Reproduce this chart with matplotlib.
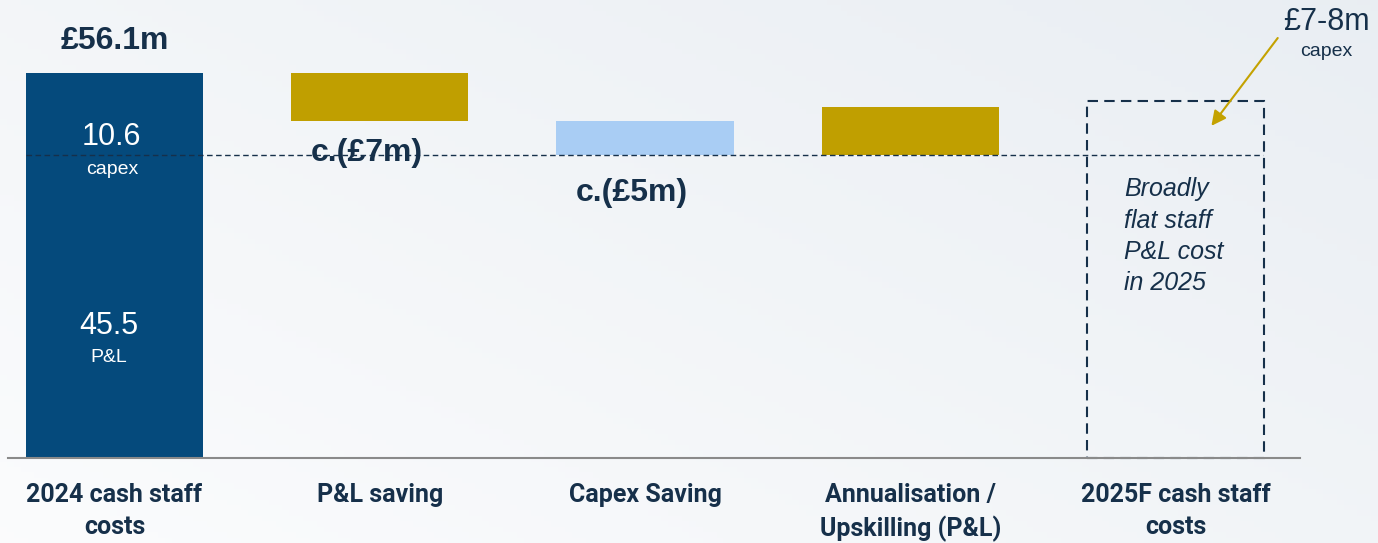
import numpy as np
import matplotlib.pyplot as plt
from matplotlib.patches import Rectangle

# waterfall data (GBP m)
categories = ["2024 cash staff\ncosts", "P&L saving", "Capex Saving",
              "Annualisation /\nUpskilling (P&L)", "2025F cash staff\ncosts"]
start_total = 56.1
start_capex = 10.6
start_pl = 45.5
steps = [-7.0, -5.0, 7.0]
step_colors = ["#c09f00", "#a9cdf4", "#c09f00"]
step_labels = ["c.(£7m)", "c.(£5m)", None]
end_total = 52.0
flat_level = 44.1

navy = "#054a7c"
dark = "#16304a"
plt.rcParams['font.family'] = ['Liberation Sans', 'DejaVu Sans']
cat_font = ['Roboto', 'Liberation Sans', 'DejaVu Sans']

fig = plt.figure(figsize=(13.78, 5.43), dpi=100)

# background gradient
bg = fig.add_axes([0, 0, 1, 1])
bg.axis("off")
gx, gy = np.meshgrid(np.linspace(0, 1, 200), np.linspace(0, 1, 100))
g = 0.55 * gx + 0.45 * (1 - gy)
c0 = np.array([0.985, 0.988, 0.992])
c1 = np.array([0.915, 0.933, 0.952])
img = c0 + (c1 - c0) * g[..., None] / g.max()
bg.imshow(img, aspect="auto", extent=[0, 1, 0, 1], origin="upper")
bg.set_xlim(0, 1); bg.set_ylim(0, 1)

ax = fig.add_axes([0, 0, 1, 1])
ax.patch.set_alpha(0)
ax.axis("off")
ax.set_xlim(-0.4317, 4.763)
ax.set_ylim(-12.39, 66.74)
w = 0.668

# first bar
ax.bar(0, start_total, width=w, color=navy, zorder=2)
ax.text(0, 60.8, "£{:.1f}m".format(start_total), ha="center", va="center",
        fontsize=23, fontweight="bold", color=dark)
ax.text(-0.01, 46.8, "{:.1f}".format(start_capex), ha="center",
        va="center", fontsize=22, color="white")
ax.text(-0.01, 42.0, "capex", ha="center", va="center",
        fontsize=14, color="white")
ax.text(-0.02, 19.2, "{:.1f}".format(start_pl), ha="center", va="center",
        fontsize=22, color="white")
ax.text(-0.02, 14.7, "P&L", ha="center", va="center",
        fontsize=14, color="white")

# step bars
label_y = [44.5, 38.6]
level = start_total
for i, s in enumerate(steps):
    x = i + 1
    bottom = level + min(s, 0)
    ax.bar(x, abs(s), bottom=bottom, width=w, color=step_colors[i], zorder=2)
    level += s
    if step_labels[i]:
        ax.text(x - 0.05, label_y[i], step_labels[i], ha="center",
                va="center", fontsize=23, fontweight="bold", color=dark, zorder=4)

# end dashed box
ax.add_patch(Rectangle((4 - w / 2, 0), w, end_total, fill=False, ec=dark, lw=1.5,
                       ls=(0, (5, 3)), zorder=3))
ax.text(4 - w / 2 + 0.14, 40.9, "Broadly\nflat staff\nP&L cost\nin 2025", ha="left",
        va="top", fontsize=18, style="italic", color=dark, linespacing=1.38)

# reference lines
ax.plot([-0.334, 4.33], [flat_level, flat_level], ls=(0, (4, 2.5)), lw=1, color=dark, zorder=3)
ax.plot([-0.40, 4.47], [0, 0], color="#8a8a8a", lw=1.5, zorder=3)

# capex annotation
ax.annotate("", xy=(4.135, 48.4), xytext=(4.385, 61.2),
            arrowprops=dict(arrowstyle="-|>", color="#c4a200", lw=1.5,
                            mutation_scale=22, shrinkA=0, shrinkB=0))
ax.text(4.568, 63.5, "£7-8m", ha="center", va="center", fontsize=22, color=dark)
ax.text(4.568, 59.2, "capex", ha="center", va="center", fontsize=14, color=dark)

# category labels
for i, c in enumerate(categories):
    ax.text(i, -3.6, c, ha="center", va="top", fontsize=18, fontweight="bold",
            color=dark, family=cat_font, linespacing=1.45)

fig.savefig("out.png", dpi=100)
